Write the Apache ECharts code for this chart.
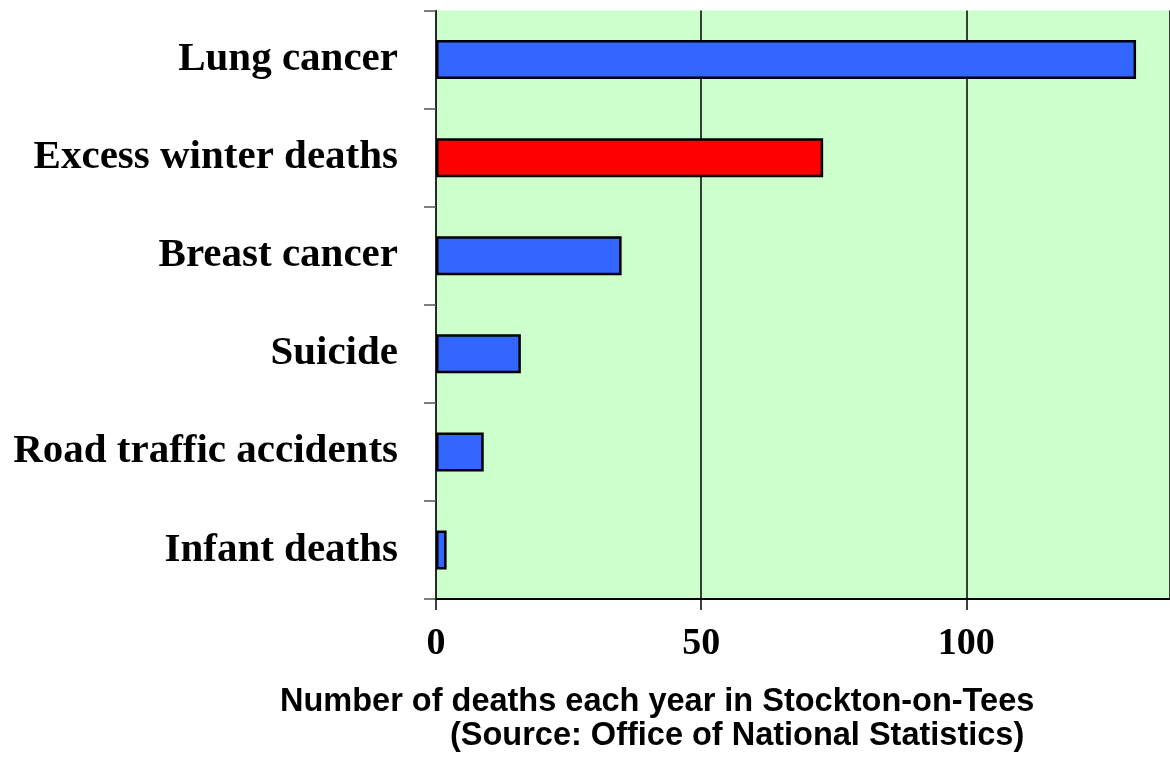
<!DOCTYPE html>
<html><head><meta charset="utf-8">
<script src="https://cdn.jsdelivr.net/npm/echarts@6/dist/echarts.min.js"></script>
<style>html,body{margin:0;padding:0;background:#fff}#c{width:1170px;height:758px}</style>
</head><body><div id="c"></div>
<script>
const categories = ['Lung cancer','Excess winter deaths','Breast cancer','Suicide','Road traffic accidents','Infant deaths'];
const deaths = [132, 73, 35, 16, 9, 2];
const barColors = ['#3366FF','#FF0000','#3366FF','#3366FF','#3366FF','#3366FF'];
const xTicks = [0, 50, 100];
const titleLines = ['Number of deaths each year in Stockton-on-Tees','(Source: Office of National Statistics)'];
const titleLeft = [280, 450];
const titleTop = [686, 720];

const chart = echarts.init(document.getElementById('c'));
chart.setOption({
  animation:false,
  backgroundColor:'#ffffff',
  graphic: titleLines.map((t,i)=>({
    type:'text', left:titleLeft[i], top:titleTop[i],
    style:{text:t, font:'bold 32.5px "Liberation Sans"', fill:'#000'}
  })),
  grid:{left:436, top:10.5, bottom:159, right:0, containLabel:false, show:true, backgroundColor:'#CCFFCC', borderWidth:0},
  xAxis:{
    type:'value', min:0, max:138.4, interval:50,
    axisLine:{show:true, lineStyle:{color:'#000', width:2}},
    axisTick:{show:true, inside:false, length:11, lineStyle:{color:'#000', width:1.5}},
    splitLine:{show:true, lineStyle:{color:'#000', width:1.5}},
    axisLabel:{margin:26, fontFamily:'Liberation Serif', fontWeight:'bold', fontSize:38, color:'#000',
      formatter:v=> xTicks.includes(v)? String(v):'' , showMaxLabel:false}
  },
  yAxis:{
    type:'category', data:categories, inverse:true,
    axisLine:{show:true, lineStyle:{color:'#222', width:1.5}},
    axisTick:{show:true, length:12, lineStyle:{color:'#555', width:1.5}},
    axisLabel:{margin:38, fontFamily:'Liberation Serif', fontWeight:'bold', fontSize:41, color:'#000'}
  },
  series:[{
    type:'bar', barWidth:39,
    data: deaths.map((v,i)=>({value:v, itemStyle:{color:barColors[i]}})),
    itemStyle:{borderColor:'#000', borderWidth:2.5}
  }]
});
</script></body></html>
